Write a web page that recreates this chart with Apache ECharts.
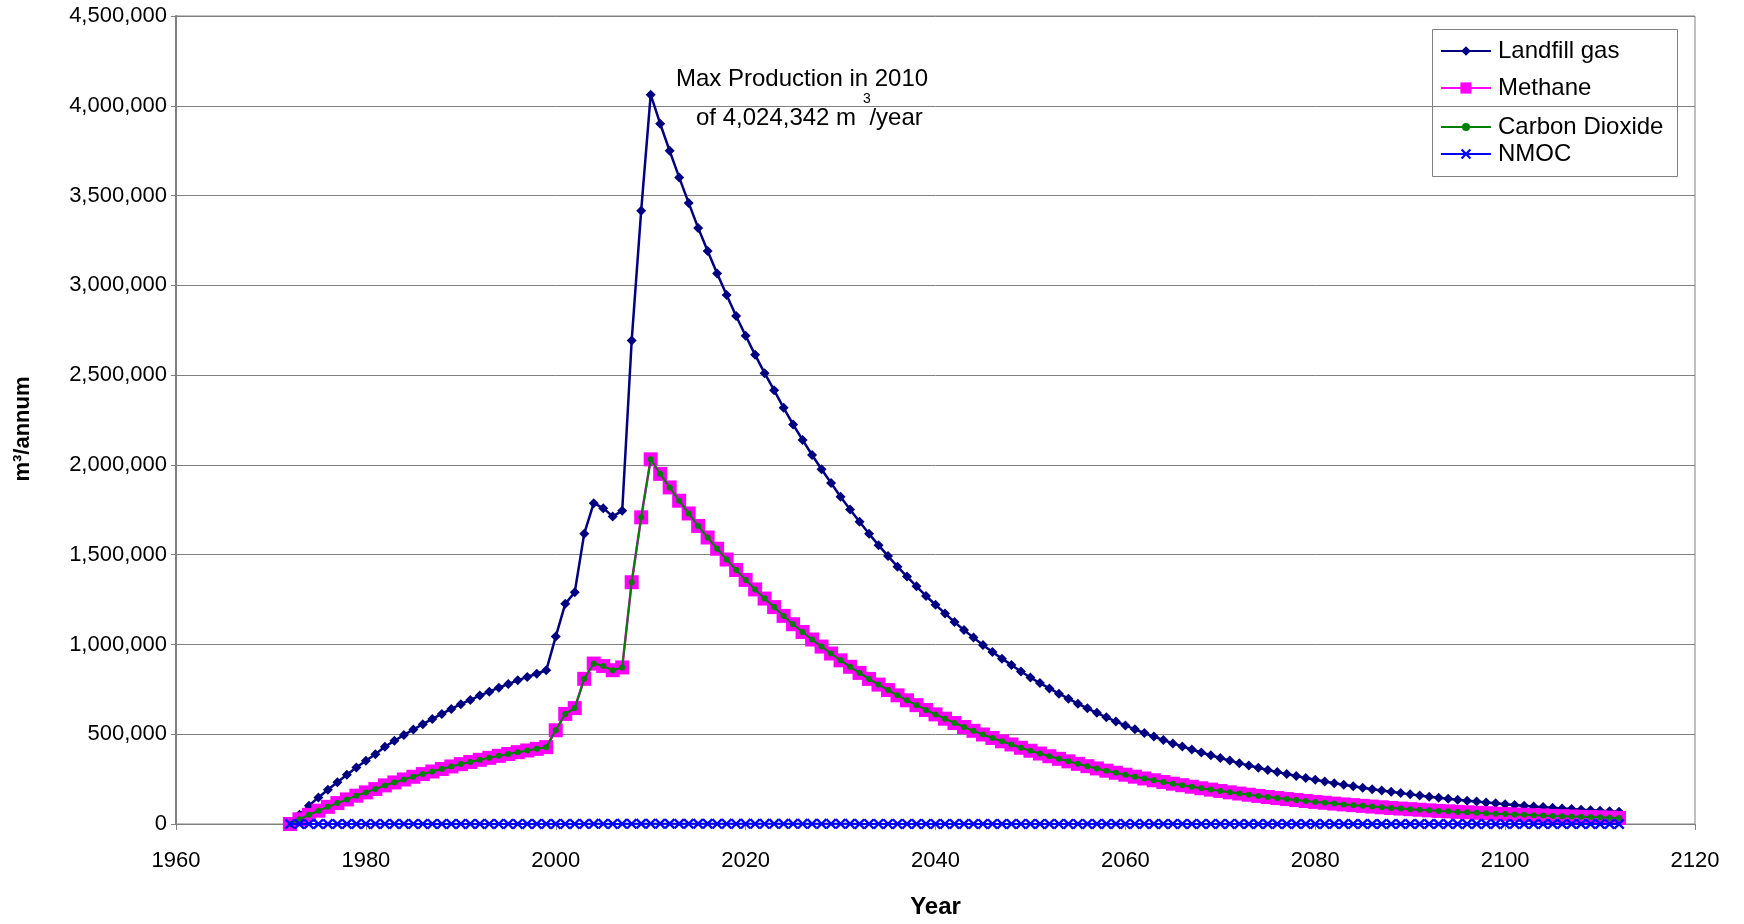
<!DOCTYPE html>
<html>
<head>
<meta charset="utf-8">
<script src="https://cdn.jsdelivr.net/npm/echarts@6/dist/echarts.min.js"></script>
<style>
html,body{margin:0;padding:0;background:#fff;}
#chart{width:1744px;height:924px;}
</style>
</head>
<body>
<div id="chart"></div>
<script>
const firstYear = 1972;
const xTicks = { min: 1960, max: 2120, interval: 20 };
const yTicks = { min: 0, max: 4500000, interval: 500000 };

const landfillGas = [
  0, 52000, 102000, 148000, 191000, 233000, 274000, 315000, 352000, 389000,
  430000, 463000, 496000, 526000, 556000, 585000, 613000, 641000, 667000, 691000,
  715000, 737000, 759000, 780000, 800000, 819000, 837000, 856000,
  1044000, 1226000, 1291000, 1617000, 1787000, 1759000, 1713000, 1744000, 2693000, 3416000, 4062000,
  3900000, 3749000, 3601000, 3459000, 3320000, 3191000, 3066000, 2946000, 2829000, 2719000,
  2613000, 2511000, 2416000, 2318000, 2225000, 2139000, 2055000, 1976000, 1899000, 1823000,
  1751000, 1683000, 1616000, 1553000, 1492000, 1433000, 1378000, 1324000, 1270000, 1221000,
  1173000, 1125000, 1080000, 1038000, 997000, 958000, 921000, 886000, 849000, 816000,
  785000, 755000, 726000,
  698000, 670000, 644000, 619000, 594000, 571000, 549000, 527000, 507000, 487000,
  468000, 449000, 432000, 415000, 398000, 383000, 368000, 353000, 339000, 326000,
  313000, 301000, 289000, 278000, 267000, 256000, 246000, 237000, 227000, 218000,
  210000, 202000, 194000, 186000, 179000, 172000, 165000, 159000, 152000, 146000,
  141000, 135000, 130000, 125000, 120000, 115000, 110000, 106000, 102000, 98000,
  94000, 90000, 87000, 83000, 80000, 77000, 74000, 71000, 68000
];

const methane = [
  0, 26000, 51000, 74000, 95500, 116500, 137000, 157500, 176000, 194500,
  215000, 231500, 248000, 263000, 278000, 292500, 306500, 320500, 333500, 345500,
  357500, 368500, 379500, 390000, 400000, 409500, 418500, 428000,
  522000, 613000, 645500, 808500, 893500, 879500, 856500, 872000, 1346500, 1708000, 2031000,
  1950000, 1874500, 1800500, 1729500, 1660000, 1595500, 1533000, 1473000, 1414500, 1359500,
  1306500, 1255500, 1208000, 1159000, 1112500, 1069500, 1027500, 988000, 949500, 911500,
  875500, 841500, 808000, 776500, 746000, 716500, 689000, 662000, 635000, 610500,
  586500, 562500, 540000, 519000, 498500, 479000, 460500, 443000, 424500, 408000,
  392500, 377500, 363000,
  349000, 335000, 322000, 309500, 297000, 285500, 274500, 263500, 253500, 243500,
  234000, 224500, 216000, 207500, 199000, 191500, 184000, 176500, 169500, 163000,
  156500, 150500, 144500, 139000, 133500, 128000, 123000, 118500, 113500, 109000,
  105000, 101000, 97000, 93000, 89500, 86000, 82500, 79500, 76000, 73000,
  70500, 67500, 65000, 62500, 60000, 57500, 55000, 53000, 51000, 49000,
  47000, 45000, 43500, 41500, 40000, 38500, 37000, 35500, 34000
];

const carbonDioxide = [
  0, 26000, 51000, 74000, 95500, 116500, 137000, 157500, 176000, 194500,
  215000, 231500, 248000, 263000, 278000, 292500, 306500, 320500, 333500, 345500,
  357500, 368500, 379500, 390000, 400000, 409500, 418500, 428000,
  522000, 613000, 645500, 808500, 893500, 879500, 856500, 872000, 1346500, 1708000, 2031000,
  1950000, 1874500, 1800500, 1729500, 1660000, 1595500, 1533000, 1473000, 1414500, 1359500,
  1306500, 1255500, 1208000, 1159000, 1112500, 1069500, 1027500, 988000, 949500, 911500,
  875500, 841500, 808000, 776500, 746000, 716500, 689000, 662000, 635000, 610500,
  586500, 562500, 540000, 519000, 498500, 479000, 460500, 443000, 424500, 408000,
  392500, 377500, 363000,
  349000, 335000, 322000, 309500, 297000, 285500, 274500, 263500, 253500, 243500,
  234000, 224500, 216000, 207500, 199000, 191500, 184000, 176500, 169500, 163000,
  156500, 150500, 144500, 139000, 133500, 128000, 123000, 118500, 113500, 109000,
  105000, 101000, 97000, 93000, 89500, 86000, 82500, 79500, 76000, 73000,
  70500, 67500, 65000, 62500, 60000, 57500, 55000, 53000, 51000, 49000,
  47000, 45000, 43500, 41500, 40000, 38500, 37000, 35500, 34000
];

const nmoc = [
  0, 20, 40, 60, 80, 90, 110, 130, 140, 160,
  170, 190, 200, 210, 220, 230, 250, 260, 270, 280,
  290, 290, 300, 310, 320, 330, 330, 340,
  420, 490, 520, 650, 710, 700, 690, 700, 1080, 1370, 1620,
  1560, 1500, 1440, 1380, 1330, 1280, 1230, 1180, 1130, 1090,
  1050, 1000, 970, 930, 890, 860, 820, 790, 760, 730,
  700, 670, 650, 620, 600, 570, 550, 530, 510, 490,
  470, 450, 430, 420, 400, 380, 370, 350, 340, 330,
  310, 300, 290, 280, 270, 260, 250, 240, 230, 220,
  210, 200, 190, 190, 180, 170, 170, 160, 150, 150,
  140, 140, 130, 130, 120, 120, 110, 110, 100, 100,
  90, 90, 90, 80, 80, 80, 70, 70, 70, 60,
  60, 60, 60, 60, 50, 50, 50, 50, 40, 40,
  40, 40, 40, 40, 40, 30, 30, 30, 30, 30, 30, 30
];

const seriesNames = ['Landfill gas', 'Methane', 'Carbon Dioxide', 'NMOC'];
const annotationLine1 = 'Max Production in 2010';
const annotationLine2 = 'of 4,024,342 m  /year';
const annotationSup = '3';

function pairs(values) {
  return values.map((v, i) => [firstYear + i, v]);
}

const FONT = '"Liberation Sans", Arial, sans-serif';
const crossPath = 'path://M0,1.5L1.5,0L5,3.5L8.5,0L10,1.5L6.5,5L10,8.5L8.5,10L5,6.5L1.5,10L0,8.5L3.5,5Z';

const chart = echarts.init(document.getElementById('chart'), null, { renderer: 'canvas' });

function legendAt(name, top, iconSize) {
  return {
    data: [name],
    left: 1440,
    top: top,
    orient: 'vertical',
    padding: 0,
    itemWidth: 50,
    itemHeight: iconSize,
    itemGap: 0,
    selectedMode: false,
    textStyle: { fontFamily: FONT, fontSize: 24, color: '#000', padding: [0, 0, 0, 2] }
  };
}

const option = {
  backgroundColor: '#ffffff',
  animation: false,
  textStyle: { fontFamily: FONT },
  grid: {
    left: 176, right: 49, top: 16, bottom: 98,
    show: true, borderColor: '#808080', borderWidth: 1, backgroundColor: '#ffffff'
  },
  legend: [
    legendAt(seriesNames[0], 39, 12),
    legendAt(seriesNames[1], 76, 14),
    legendAt(seriesNames[2], 115, 10),
    legendAt(seriesNames[3], 142, 13)
  ],
  xAxis: {
    type: 'value',
    min: xTicks.min, max: xTicks.max, interval: xTicks.interval,
    name: 'Year',
    nameLocation: 'middle',
    nameGap: 71,
    nameTextStyle: { fontFamily: FONT, fontSize: 24, fontWeight: 'bold', color: '#000' },
    axisLine: { onZero: false, lineStyle: { color: '#808080', width: 1 } },
    axisTick: { show: true, inside: false, length: 6, lineStyle: { color: '#808080' } },
    axisLabel: { fontFamily: FONT, fontSize: 22, color: '#000', margin: 26, formatter: v => String(v) },
    splitLine: { show: false }
  },
  yAxis: {
    type: 'value',
    min: yTicks.min, max: yTicks.max, interval: yTicks.interval,
    name: 'm³/annum',
    nameLocation: 'middle',
    nameGap: 142,
    nameTextStyle: { fontFamily: FONT, fontSize: 22, fontWeight: 'bold', color: '#000', padding: [0, 18, 0, 0] },
    axisLine: { show: true, lineStyle: { color: '#808080', width: 2 } },
    axisTick: { show: true, inside: false, length: 5, lineStyle: { color: '#808080' } },
    axisLabel: {
      fontFamily: FONT, fontSize: 22, color: '#000', margin: 9,
      formatter: v => v.toString().replace(/\B(?=(\d{3})+(?!\d))/g, ',')
    },
    splitLine: { show: true, lineStyle: { color: '#808080', width: 1 } }
  },
  graphic: [
    {
      type: 'rect', left: 1432, top: 29, z: 0,
      shape: { width: 245, height: 147 },
      style: { fill: '#ffffff', stroke: '#808080', lineWidth: 1 }
    },
    {
      type: 'text', left: 676, top: 67, z: 100,
      style: { text: annotationLine1, font: '24px ' + FONT, fill: '#000' }
    },
    {
      type: 'text', left: 696, top: 106, z: 100,
      style: { text: annotationLine2, font: '24px ' + FONT, fill: '#000' }
    },
    {
      type: 'text', left: 863, top: 92, z: 100,
      style: { text: annotationSup, font: '14px ' + FONT, fill: '#000' }
    }
  ],
  series: [
    {
      name: seriesNames[0], type: 'line', data: pairs(landfillGas),
      symbol: 'diamond', symbolSize: 10, showAllSymbol: true,
      itemStyle: { color: '#000080' },
      lineStyle: { color: '#000080', width: 2.5 },
      z: 2
    },
    {
      name: seriesNames[1], type: 'line', data: pairs(methane),
      symbol: 'rect', symbolSize: 14, showAllSymbol: true,
      itemStyle: { color: '#ff00ff' },
      lineStyle: { color: '#ff00ff', width: 2.5 },
      z: 3
    },
    {
      name: seriesNames[2], type: 'line', data: pairs(carbonDioxide),
      symbol: 'circle', symbolSize: 6, showAllSymbol: true,
      itemStyle: { color: '#008000' },
      lineStyle: { color: '#008000', width: 2 },
      z: 4
    },
    {
      name: seriesNames[3], type: 'line', data: pairs(nmoc),
      symbol: crossPath, symbolSize: 11, showAllSymbol: true,
      itemStyle: { color: '#0000ff' },
      lineStyle: { color: '#0000ff', width: 2 },
      z: 5
    }
  ]
};

chart.setOption(option);
</script>
</body>
</html>
